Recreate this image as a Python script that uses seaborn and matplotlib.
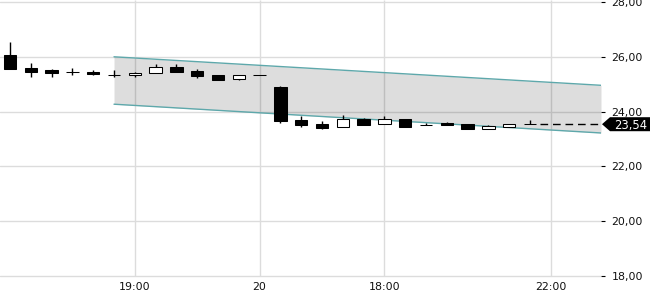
import numpy as np
import pandas as pd
import matplotlib
matplotlib.use("Agg")
import matplotlib.pyplot as plt
import seaborn as sns
from matplotlib.patches import Polygon
from matplotlib.transforms import IdentityTransform
from matplotlib.ticker import FuncFormatter

# ---- data ----
opens  = [26.05, 25.59, 25.51, 25.45, 25.46, 25.34, 25.33, 25.40, 25.62, 25.49, 25.34, 25.20, 25.33,
          24.90, 23.69, 23.56, 23.43, 23.73, 23.54, 23.73, 23.50, 23.57, 23.55, 23.35, 23.43, 23.54]
highs  = [26.54, 25.77, 25.54, 25.59, 25.51, 25.51, 25.43, 25.73, 25.73, 25.55, 25.34, 25.33, 25.33,
          24.93, 23.85, 23.66, 23.88, 23.77, 23.85, 23.73, 23.57, 23.61, 23.55, 23.50, 23.55, 23.68]
lows   = [25.57, 25.25, 25.25, 25.32, 25.32, 25.26, 25.26, 25.40, 25.46, 25.24, 25.16, 25.16, 25.33,
          23.60, 23.45, 23.35, 23.43, 23.50, 23.54, 23.45, 23.50, 23.50, 23.35, 23.35, 23.43, 23.54]
closes = [25.57, 25.46, 25.42, 25.45, 25.37, 25.34, 25.42, 25.64, 25.46, 25.31, 25.16, 25.33, 25.33,
          23.67, 23.52, 23.41, 23.73, 23.52, 23.74, 23.45, 23.50, 23.50, 23.35, 23.46, 23.55, 23.54]

channel_x     = [5, 28.41]
channel_upper = [26.00, 24.96]
channel_lower = [24.27, 23.22]

last_price = 23.54
last_start = 25.5

xtick_pos    = [6, 12, 18, 26]
xtick_labels = ["19:00", "20", "18:00", "22:00"]
ytick_vals   = [18, 20, 22, 24, 26, 28]

df = pd.DataFrame({"o": opens, "h": highs, "l": lows, "c": closes})
df["x"] = np.arange(len(df))

# ---- style ----
sns.set_style("white")
plt.rcParams["font.family"] = ["DejaVu Sans"]
plt.rcParams["font.size"] = 7.9

fig = plt.figure(figsize=(6.5, 3), dpi=100)
ax = fig.add_axes([0, 0.01, 601 / 650, 0.99])
XL = (-0.48, 28.41)
YL = (17.234, 28.073)
ax.set_xlim(*XL)
ax.set_ylim(*YL)
for s in ax.spines.values():
    s.set_visible(False)

grid_c = "#dcdcdc"
ax.grid(axis="y", color=grid_c, lw=1, zorder=0)
ax.grid(axis="x", visible=False)
ax.vlines(xtick_pos, 18, YL[1], color=grid_c, lw=1, zorder=0.5)

# channel
ax.fill_between(channel_x, channel_lower, channel_upper, color="black", alpha=0.135,
                lw=0, zorder=1)
sns.lineplot(x=channel_x, y=channel_upper, ax=ax, color="#5ea8ab", lw=1, zorder=2)
sns.lineplot(x=channel_x, y=channel_lower, ax=ax, color="#5ea8ab", lw=1, zorder=2)

# candles
ax.vlines(df["x"], df["l"], df["h"], color="black", lw=1, zorder=3)
bottoms = np.minimum(df["o"], df["c"])
heights = np.abs(df["c"] - df["o"])
fills = ["white" if c > o else "black" for o, c in zip(df["o"], df["c"])]
ax.bar(df["x"], heights, bottom=bottoms, width=0.6, color=fills, edgecolor="black",
       lw=0.75, zorder=4)

# last price dashed line
ax.hlines(last_price, last_start, XL[1], color="black", lw=1,
          linestyles=[(0, (5.5, 3.5))], zorder=4)

# ticks
ax.yaxis.tick_right()
ax.set_yticks(ytick_vals)
ax.yaxis.set_major_formatter(FuncFormatter(lambda v, p: f"{v:.2f}".replace(".", ",")))
ax.tick_params(axis="y", direction="out", length=3, width=0.8, pad=4.5,
               colors="black", labelcolor="#111111")
ax.set_xticks(xtick_pos)
ax.set_xticklabels(xtick_labels)
ax.tick_params(axis="x", direction="in", length=4.3, width=0.8, pad=-10.5,
               colors="black", labelcolor="#111111")
ax.set_xlabel("")
ax.set_ylabel("")

# price tag
fig.canvas.draw()
ypix = ax.transData.transform((0, last_price))[1]
xpix = ax.transAxes.transform((1, 0))[0]
W = fig.get_figwidth() * fig.dpi
pts = [(xpix + 1, ypix), (xpix + 9, ypix + 7), (W, ypix + 7), (W, ypix - 7), (xpix + 9, ypix - 7)]
fig.add_artist(Polygon(pts, closed=True, transform=IdentityTransform(), fc="black", ec="none"))
fig.text((xpix + 9 + W) / 2 + 1, ypix, f"{last_price:.2f}".replace(".", ","),
         transform=IdentityTransform(), ha="center", va="center_baseline",
         color="white", fontsize=8.3)

fig.savefig("out.png", dpi=100)
